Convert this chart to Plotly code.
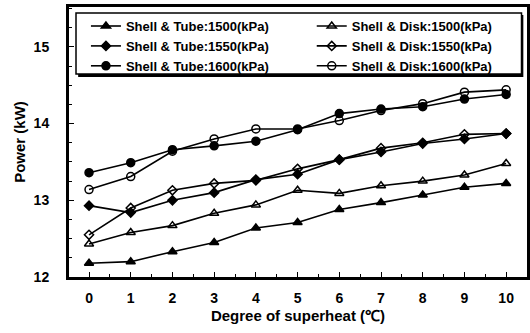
import plotly.graph_objects as go

x_vals = [0, 1, 2, 3, 4, 5, 6, 7, 8, 9, 10]
tube_1500 = [12.18, 12.20, 12.33, 12.45, 12.64, 12.71, 12.88, 12.97, 13.07, 13.17, 13.22]
disk_1500 = [12.43, 12.58, 12.67, 12.83, 12.94, 13.13, 13.09, 13.19, 13.25, 13.33, 13.48]
tube_1550 = [12.93, 12.84, 13.00, 13.10, 13.27, 13.34, 13.53, 13.63, 13.74, 13.80, 13.87]
disk_1550 = [12.55, 12.90, 13.13, 13.22, 13.26, 13.41, 13.53, 13.68, 13.75, 13.86, 13.87]
tube_1600 = [13.36, 13.49, 13.66, 13.71, 13.77, 13.92, 14.13, 14.19, 14.22, 14.32, 14.38]
disk_1600 = [13.14, 13.31, 13.64, 13.80, 13.93, 13.93, 14.04, 14.17, 14.26, 14.41, 14.44]

names = ["Shell & Tube:1500(kPa)", "Shell & Tube:1550(kPa)", "Shell & Tube:1600(kPa)",
         "Shell & Disk:1500(kPa)", "Shell & Disk:1550(kPa)", "Shell & Disk:1600(kPa)"]
series = [tube_1500, tube_1550, tube_1600, disk_1500, disk_1550, disk_1600]
symbols = ["triangle-up", "diamond", "circle", "triangle-up-open", "diamond-open", "circle-open"]
sizes = [8, 7, 8, 8, 7, 8]
legend_ids = ["legend", "legend", "legend", "legend2", "legend2", "legend2"]

FONT = "Liberation Sans, Arial, sans-serif"

fig = go.Figure()
for n, s, sym, sz, lg in zip(names, series, symbols, sizes, legend_ids):
    fig.add_trace(go.Scatter(
        x=x_vals, y=s, name=n, mode="lines+markers", legend=lg,
        line=dict(color="black", width=1.6),
        marker=dict(symbol=sym, size=sz, color="black", line=dict(color="black", width=1.5)),
    ))

# legend box with drop shadow
fig.add_shape(type="rect", xref="paper", yref="paper",
              x0=0.020, x1=0.992, y0=0.741, y1=0.970,
              fillcolor="black", line=dict(width=0), layer="above")
fig.add_shape(type="rect", xref="paper", yref="paper",
              x0=0.0153, x1=0.988, y0=0.752, y1=0.978,
              fillcolor="white", line=dict(width=1.5, color="black"), layer="above")

leg_common = dict(
    orientation="v", yanchor="top", xanchor="left",
    bgcolor="rgba(0,0,0,0)", borderwidth=0,
    font=dict(family=FONT, size=13, color="black", weight="bold"),
    tracegroupgap=0, itemwidth=30,
)

fig.update_layout(
    width=530, height=333,
    margin=dict(l=69, r=3, t=7, b=56, autoexpand=False),
    paper_bgcolor="white", plot_bgcolor="white",
    font=dict(family=FONT, size=13, color="black", weight="bold"),
    showlegend=True,
    legend=dict(x=0.037, y=0.985, **leg_common),
    legend2=dict(x=0.53, y=0.985, **leg_common),
    xaxis=dict(
        range=[-0.48, 10.5], tickvals=x_vals, ticks="inside", ticklen=5,
        tickcolor="black", showgrid=False, zeroline=False, automargin=False,
        showline=True, linecolor="black", linewidth=3, mirror=True,
        minor=dict(dtick=0.5, ticks="inside", ticklen=3, tickcolor="black"),
        tickfont=dict(size=14, weight="bold"),
        ticklabelstandoff=6,
        title=dict(text="Degree of superheat (℃)", font=dict(size=15, weight="bold"), standoff=6),
    ),
    yaxis=dict(
        range=[12.0, 15.52], tickvals=[12, 13, 14, 15], ticks="inside", ticklen=5,
        tickcolor="black", showgrid=False, zeroline=False, automargin=False,
        showline=True, linecolor="black", linewidth=3, mirror=True,
        minor=dict(dtick=0.25, ticks="inside", ticklen=3, tickcolor="black"),
        tickfont=dict(size=14, weight="bold"),
        ticklabelstandoff=14,
        title=dict(text="Power (kW)", font=dict(size=15, weight="bold"), standoff=5),
    ),
)

fig.write_html("out.html", config={"displayModeBar": False},
               post_script="document.body.style.margin='0';")
